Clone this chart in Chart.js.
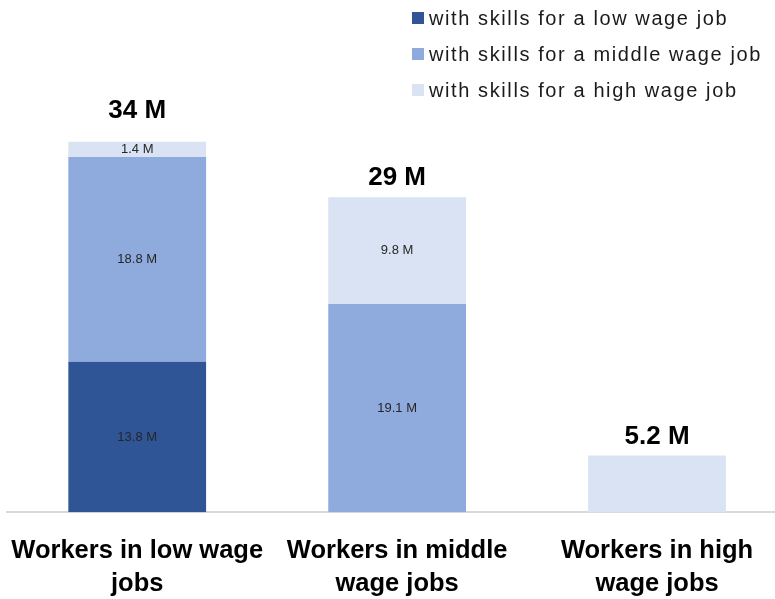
<!DOCTYPE html>
<html>
<head>
<meta charset="utf-8">
<script src="https://cdn.jsdelivr.net/npm/chart.js@4"></script>
<style>
  html, body { margin: 0; padding: 0; background: #fff; overflow: hidden; }
  #wrap { width: 802px; height: 599px; margin-left: -12px; }
</style>
</head>
<body>
<div id="wrap"><canvas id="jobsChart"></canvas></div>
<script>
const categories = [
    ['Workers in low wage', 'jobs'],
    ['Workers in middle', 'wage jobs'],
    ['Workers in high', 'wage jobs']
];
const seriesNames = [
    'with skills for a low wage job',
    'with skills for a middle wage job',
    'with skills for a high wage job'
];
const lowSkill = [13.8, 0, 0];
const middleSkill = [18.8, 19.1, 0];
const highSkill = [1.4, 9.8, 5.2];
const totalLabels = ['34 M', '29 M', '5.2 M'];
const colors = ['#2f5597', '#8faadc', '#dae3f3'];

// canvas is shifted left by this much (see #wrap)
const shift = 12;

const labelsPlugin = {
    id: 'labels',
    afterDatasetsDraw(chart) {
        const ctx = chart.ctx;
        ctx.save();
        ctx.textAlign = 'center';
        ctx.textBaseline = 'middle';
        categories.forEach((c, i) => {
            const filled = chart.data.datasets.filter(d => d.data[i] > 0).length;
            let topY = chart.chartArea.bottom;
            let topVal = 0;
            chart.data.datasets.forEach((ds, di) => {
                const bar = chart.getDatasetMeta(di).data[i];
                if (ds.data[i] <= 0) return;
                topY = Math.min(topY, bar.y);
                topVal = ds.data[i];
                if (filled > 1) {
                    ctx.font = '13px "Liberation Sans", Arial, sans-serif';
                    ctx.fillStyle = '#262626';
                    ctx.fillText(ds.data[i].toFixed(1) + ' M', bar.x, (bar.y + bar.base) / 2);
                }
            });
            const x = chart.getDatasetMeta(0).data[i].x;
            // small top segment label sits above, push total up a bit
            const off = topVal < 2 ? 31 : 19;
            ctx.font = 'bold 26px "Liberation Sans", Arial, sans-serif';
            ctx.fillStyle = '#000';
            ctx.fillText(totalLabels[i], x, topY - off);
        });

        // legend
        ctx.textAlign = 'left';
        ctx.font = '20px "Liberation Sans", Arial, sans-serif';
        ctx.letterSpacing = '1.6px';
        seriesNames.forEach((name, i) => {
            const y = 18 + i * 36;
            ctx.fillStyle = colors[i];
            ctx.fillRect(412 + shift, y - 6, 12, 12);
            ctx.fillStyle = '#1a1a1a';
            ctx.fillText(name, 429 + shift, y + 1);
        });
        ctx.restore();
    }
};

new Chart(document.getElementById('jobsChart'), {
    type: 'bar',
    data: {
        labels: categories,
        datasets: [
            { label: seriesNames[0], data: lowSkill, backgroundColor: colors[0] },
            { label: seriesNames[1], data: middleSkill, backgroundColor: colors[1] },
            { label: seriesNames[2], data: highSkill, backgroundColor: colors[2] }
        ]
    },
    options: {
        responsive: true,
        maintainAspectRatio: false,
        animation: false,
        layout: { padding: { left: 2, right: 3, top: 0, bottom: -24 } },
        datasets: { bar: { barPercentage: 0.53, categoryPercentage: 1 } },
        plugins: { legend: { display: false }, tooltip: { enabled: false } },
        scales: {
            x: {
                stacked: true,
                grid: { display: false, drawTicks: false },
                border: { color: '#d9d9d9', width: 2 },
                ticks: {
                    color: '#000',
                    padding: 23,
                    maxRotation: 0,
                    font: { family: '"Liberation Sans", Arial, sans-serif', size: 25.5, weight: 'bold', lineHeight: 1.27 }
                }
            },
            y: {
                stacked: true,
                display: false,
                min: 0,
                max: 47
            }
        }
    },
    plugins: [labelsPlugin]
});
</script>
</body>
</html>
